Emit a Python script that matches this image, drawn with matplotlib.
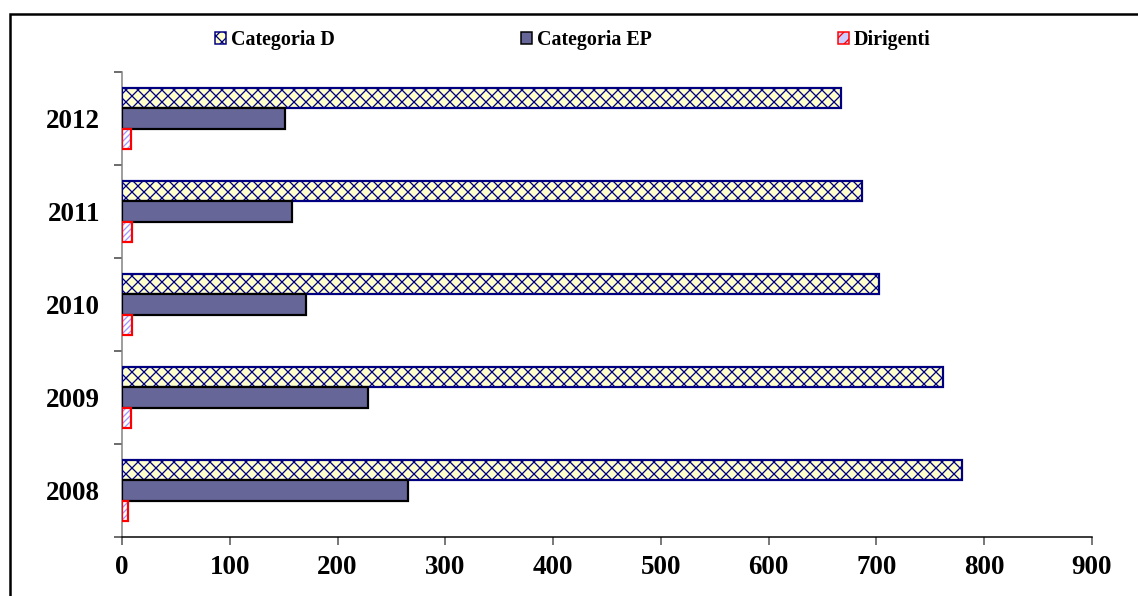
import matplotlib
matplotlib.use("Agg")
import matplotlib.pyplot as plt
from matplotlib.patches import Rectangle, Patch
import numpy as np

# Data
years = ["2008", "2009", "2010", "2011", "2012"]
categoria_d = [779, 762, 702, 687, 667]
categoria_ep = [265, 228, 171, 158, 151]
dirigenti = [6, 8, 9, 9, 8]
series_labels = ["Categoria D", "Categoria EP", "Dirigenti"]
x_ticks = [0, 100, 200, 300, 400, 500, 600, 700, 800, 900]

plt.rcParams["font.family"] = ["Liberation Serif", "DejaVu Serif"]
plt.rcParams["font.weight"] = "bold"
plt.rcParams["hatch.linewidth"] = 1.3

DPI = 72
W, H = 1138, 596
fig = plt.figure(figsize=(W / DPI, H / DPI), dpi=DPI)
fig.patch.set_facecolor("white")

ax = fig.add_axes([122 / W, 1 - 537 / H, (1092 - 122) / W, (537 - 72) / H])

y = np.arange(len(years))
h = 0.222

navy = "#000080"
cream = "#FFFFCC"
slate = "#666699"
lav = "#9999FF"

# Categoria D: cream fill with navy lattice
ax.barh(y + h, categoria_d, height=h, color=cream, edgecolor=navy,
        hatch="xx", linewidth=2.2, zorder=3)
# Categoria EP: solid slate with black outline
ax.barh(y, categoria_ep, height=h, color=slate, edgecolor="black",
        linewidth=2.2, zorder=3)
# Dirigenti: lavender stripes, red outline
ax.barh(y - h, dirigenti, height=h, color="white", edgecolor=lav,
        hatch="////", linewidth=0, zorder=3)
ax.barh(y - h, dirigenti, height=h, color="none", edgecolor="red",
        linewidth=2.2, zorder=4)

ax.set_xlim(0, 900)
ax.set_ylim(-0.5, len(years) - 0.5)

ax.set_xticks(x_ticks)
ax.set_xticklabels([str(v) for v in x_ticks], fontsize=27, fontweight="bold")
ax.tick_params(axis="x", length=8, width=1.5, color="#505050", pad=10,
               direction="out")

ax.set_yticks(y)
ax.set_yticklabels(years, fontsize=27, fontweight="bold")
ax.tick_params(axis="y", which="major", length=0, pad=22)
ax.set_yticks(np.arange(-0.5, len(years), 1.0), minor=True)
ax.tick_params(axis="y", which="minor", length=8, width=1.5, color="#404040",
               direction="out")

for s in ("top", "right"):
    ax.spines[s].set_visible(False)
ax.spines["left"].set_color("#808080")
ax.spines["left"].set_linewidth(1.5)
ax.spines["bottom"].set_color("black")
ax.spines["bottom"].set_linewidth(1.5)

# Legend across the top
handles = [
    Patch(facecolor=cream, edgecolor=navy, hatch="xx", linewidth=1.5),
    Patch(facecolor=slate, edgecolor="black", linewidth=1.5),
    Patch(facecolor="#CCCCFF", edgecolor="red", hatch="//", linewidth=1.5),
]
leg = fig.legend(handles, series_labels, loc="center",
                 bbox_to_anchor=(573 / W, 1 - 40 / H),
                 bbox_transform=fig.transFigure, ncol=3, frameon=False,
                 handlelength=0.55, handleheight=0.55, handletextpad=0.25,
                 columnspacing=9.3, prop={"size": 20, "weight": "bold"})

# Outer frame of the chart area
frame = Rectangle((10 / W, -0.05), 1.2, 1 - 14 / H + 0.05,
                  transform=fig.transFigure, fill=False,
                  edgecolor="black", linewidth=2.5)
fig.patches.append(frame)

fig.savefig("out.png", dpi=DPI, facecolor="white")
